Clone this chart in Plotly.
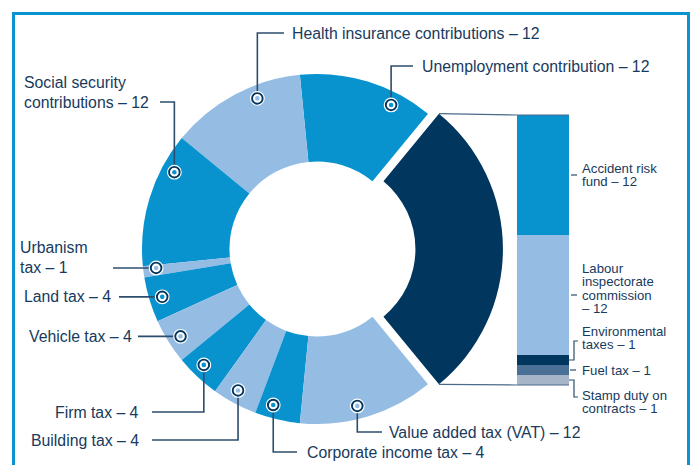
import math
import plotly.graph_objects as go

# ---------------- data ----------------
pie_labels = ["Unemployment contribution", "Health insurance contributions",
              "Social security contributions", "Urbanism tax", "Land tax",
              "Vehicle tax", "Firm tax", "Building tax", "Corporate income tax",
              "Value added tax (VAT)", "Other"]
pie_values = [12, 12, 12, 1, 4, 4, 4, 4, 4, 12]

bar_labels = ["Stamp duty on contracts", "Fuel tax", "Environmental taxes",
              "Labour inspectorate commission", "Accident risk fund"]
bar_values = [1, 1, 1, 12, 12]

pie_label_text = [["Unemployment contribution – 12"],
                  ["Health insurance contributions – 12"],
                  ["Social security", "contributions – 12"],
                  ["Urbanism", "tax – 1"],
                  ["Land tax – 4"],
                  ["Vehicle tax – 4"],
                  ["Firm tax – 4"],
                  ["Building tax – 4"],
                  ["Corporate income tax – 4"],
                  ["Value added tax (VAT) – 12"]]
bar_label_text = [["Stamp duty on", "contracts – 1"],
                  ["Fuel tax – 1"],
                  ["Environmental", "taxes – 1"],
                  ["Labour", "inspectorate", "commission", "– 12"],
                  ["Accident risk", "fund – 12"]]

# ---------------- style ----------------
MED, LIGHT, NAVY = "#0893cf", "#95bde3", "#01365e"
pie_colors = [MED, LIGHT, MED, LIGHT, MED, LIGHT, MED, LIGHT, MED, LIGHT, NAVY]
bar_colors = ["#a7b5c9", "#4b7096", NAVY, LIGHT, MED]
TXT = "#173a5d"
LINE = "#2c4d6c"
FONT = "Liberation Sans, Arial, sans-serif"
W, H = 694, 465

# donut geometry (pixels)
CX, CY, R = 317, 249, 175
PULL, HOLE = 0.0625, 0.5
MR = 162  # radius of the leader dots
marker_frac = [0.27, 0.355, 0.246, 0.29, 0.52, 0.55, 0.42, 0.43, 0.33, 0.445]

# label layout: (text x, xanchor, leader kind, knee y, end x, anchor line)
label_layout = [
    (420, "left", "v", 66, 413, 0),
    (290, "left", "v", 33, 284, 0),
    (22, "left", "v", 102, 160, 1),
    (18, "left", "h", None, 113, 1),
    (22, "left", "h", None, 119, 0),
    (27, "left", "h", None, 138, 0),
    (141, "right", "v", 412, 152, 0),
    (141, "right", "v", 440, 152, 0),
    (305, "left", "v", 452, 297, 0),
    (387, "left", "v", 432, 382, 0),
]

BAR_X0, BAR_X1, BAR_TOP, BAR_BOT = 517, 569, 115, 385

# ---------------- derived ----------------
other = sum(bar_values)
values = pie_values + [other]
total = sum(values)
half_other = other / total * 180.0
# plotly (counterclockwise): rotation marks the ccw edge of the first slice
rotation = 90 - half_other - values[0] / total * 360.0

starts = []
a = half_other
for v in values:
    starts.append(a)
    a += v / total * 360.0

box = R * (1 + PULL)
dom_x = [(CX - box) / W, (CX + box) / W]
dom_y = [1 - (CY + box) / H, 1 - (CY - box) / H]

fig = go.Figure()

# invisible pixel-space overlay axis
fig.add_trace(go.Scatter(x=[None], y=[None], xaxis="x", yaxis="y",
                         showlegend=False, hoverinfo="skip"))

fig.add_trace(go.Pie(values=values, labels=pie_labels, sort=False,
                     direction="counterclockwise", rotation=rotation,
                     hole=HOLE, pull=[0] * len(pie_values) + [PULL],
                     marker=dict(colors=pie_colors, line=dict(width=0)),
                     textinfo="none", hoverinfo="label+value",
                     showlegend=False, domain=dict(x=dom_x, y=dom_y)))

for lab, v, c in zip(bar_labels, bar_values, bar_colors):
    fig.add_trace(go.Bar(x=["Other"], y=[v], name=lab, marker=dict(color=c, line=dict(width=0)),
                         width=1, xaxis="x2", yaxis="y2", showlegend=False))

shapes = []
annotations = []


def pt(angle_deg, r, cx=CX, cy=CY):
    t = math.radians(angle_deg)
    return cx + r * math.cos(t), cy - r * math.sin(t)


def path(points, color=LINE, width=1.6):
    d = "M " + " L ".join(f"{x:.2f},{y:.2f}" for x, y in points)
    shapes.append(dict(type="path", path=d, xref="x", yref="y",
                       line=dict(color=color, width=width), layer="above"))


def circle(x, y, r, fill, lcolor=None, lw=0):
    shapes.append(dict(type="circle", xref="x", yref="y",
                       x0=x - r, x1=x + r, y0=y - r, y1=y + r,
                       fillcolor=fill, line=dict(color=lcolor or fill, width=lw),
                       layer="above"))


# pie leaders and labels
LH = 20
for i, lines in enumerate(pie_label_text):
    ang = starts[i] + marker_frac[i] * values[i] / total * 360.0
    mx, my = pt(ang, MR)
    tx, xanchor, kind, knee, endx, al = label_layout[i]
    if kind == "v":
        path([(mx, my), (mx, knee), (endx, knee)])
        ly = knee
    else:
        path([(mx, my), (endx, my)])
        ly = my
    for k, s in enumerate(lines):
        annotations.append(dict(x=tx, y=ly + (k - al) * LH, xref="x", yref="y",
                                text=s, showarrow=False, xanchor=xanchor,
                                yanchor="middle",
                                font=dict(family=FONT, size=15.8, color=TXT)))
    circle(mx, my, 7.4, "white")
    circle(mx, my, 5.3, "white", NAVY, 1.9)
    circle(mx, my, 2.3, pie_colors[i])

# connector lines from pulled slice to bar
pcx = CX + PULL * R
x_top, y_top = pt(half_other, R, pcx, CY)
x_bot, y_bot = pt(-half_other, R, pcx, CY)
path([(x_top, y_top), (BAR_X0, BAR_TOP), (BAR_X1, BAR_TOP)], color="#4a6a8a", width=1.2)
path([(x_bot, y_bot), (BAR_X0, BAR_BOT), (BAR_X1, BAR_BOT)], color="#4a6a8a", width=1.2)

# bar labels
unit = (BAR_BOT - BAR_TOP) / other
BLH = 13.5
TX = 580
BFS = 13.2
cum = 0
bar_mid = []
for v in bar_values:
    bar_mid.append(BAR_BOT - (cum + v / 2) * unit)
    cum += v


def btext(y, s):
    annotations.append(dict(x=TX, y=y, xref="x", yref="y", text=s,
                            showarrow=False, xanchor="left", yanchor="middle",
                            font=dict(family=FONT, size=BFS, color=TXT)))


# Stamp duty (bracket down)
seg_y = bar_mid[0]
path([(BAR_X1, seg_y), (574, seg_y), (574, seg_y + 17), (578, seg_y + 17)], width=1.2)
for k, s in enumerate(bar_label_text[0]):
    btext(seg_y + 15 + k * BLH, s)
# Fuel tax (straight tick)
seg_y = bar_mid[1]
path([(BAR_X1 + 1, seg_y), (576, seg_y)], width=1.2)
btext(seg_y, bar_label_text[1][0])
# Environmental (bracket up)
seg_y = bar_mid[2]
path([(BAR_X1, seg_y), (574, seg_y), (574, seg_y - 19), (578, seg_y - 19)], width=1.2)
for k, s in enumerate(bar_label_text[2]):
    btext(seg_y - 29 + k * BLH, s)
# Labour & Accident (ticks)
for idx, al in ((3, 2), (4, 0.5)):
    seg_y = bar_mid[idx]
    path([(571, seg_y), (577, seg_y)], width=1.2)
    for k, s in enumerate(bar_label_text[idx]):
        btext(seg_y + (k - al) * BLH, s)

# frame
shapes.append(dict(type="rect", xref="paper", yref="paper",
                   x0=13.5 / W, x1=688.5 / W, y0=-0.1, y1=1 - 13.5 / H,
                   line=dict(color="#0b93cf", width=3), fillcolor="rgba(0,0,0,0)",
                   layer="above"))

fig.update_layout(
    width=W, height=H, margin=dict(l=0, r=0, t=0, b=0),
    paper_bgcolor="white", plot_bgcolor="white",
    barmode="stack", bargap=0,
    xaxis=dict(domain=[0, 1], range=[0, W], visible=False, fixedrange=True),
    yaxis=dict(domain=[0, 1], range=[H, 0], visible=False, fixedrange=True),
    xaxis2=dict(domain=[BAR_X0 / W, BAR_X1 / W], range=[-0.5, 0.5], visible=False,
                anchor="y2", fixedrange=True),
    yaxis2=dict(domain=[1 - BAR_BOT / H, 1 - BAR_TOP / H], range=[0, other], visible=False,
                anchor="x2", fixedrange=True),
    shapes=shapes, annotations=annotations,
)

fig.write_html("out.html", config={"displayModeBar": False},
               post_script="document.body.style.margin='0';document.body.style.overflow='hidden';")
